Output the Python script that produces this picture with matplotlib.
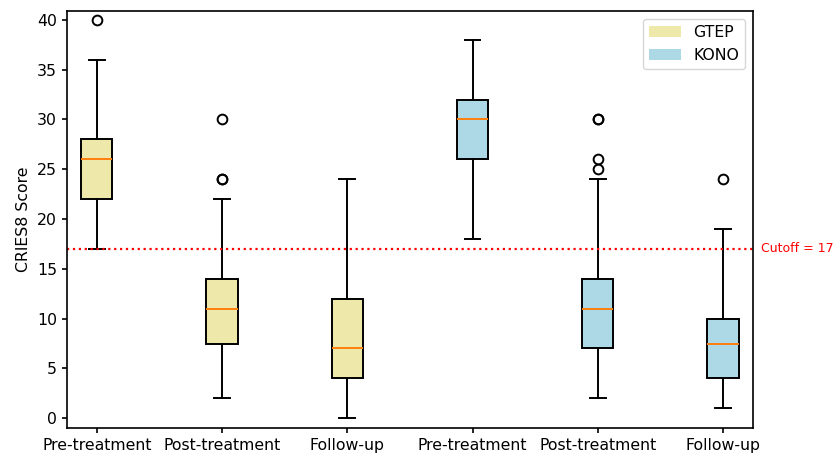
import matplotlib
matplotlib.use('Agg')
import matplotlib.pyplot as plt
from matplotlib.patches import Patch

# Box statistics (CRIES8 scores)
labels = ['Pre-treatment', 'Post-treatment', 'Follow-up',
          'Pre-treatment', 'Post-treatment', 'Follow-up']
groups = ['GTEP', 'GTEP', 'GTEP', 'KONO', 'KONO', 'KONO']
whislo = [17, 2, 0, 18, 2, 1]
q1 = [22, 7.5, 4, 26, 7, 4]
med = [26, 11, 7, 30, 11, 7.5]
q3 = [28, 14, 12, 32, 14, 10]
whishi = [36, 22, 24, 38, 24, 19]
fliers = [[40], [24, 24, 30], [], [], [25, 26, 30, 30], [24]]

cutoff = 17
colors = {'GTEP': '#EEE8AA', 'KONO': '#ADD8E6'}

plt.rcParams['font.size'] = 11.3
lw = 1.4

stats = []
for i in range(len(labels)):
    stats.append({
        'label': labels[i],
        'whislo': whislo[i], 'q1': q1[i], 'med': med[i],
        'q3': q3[i], 'whishi': whishi[i], 'fliers': fliers[i],
    })

fig = plt.figure(figsize=(8.34, 4.55), dpi=100)
ax = fig.add_axes([0.080, 0.059, 0.823, 0.917])

bp = ax.bxp(stats, positions=range(1, len(labels) + 1), widths=0.25,
            patch_artist=True, showfliers=True,
            boxprops=dict(linewidth=lw), whiskerprops=dict(linewidth=lw),
            capprops=dict(linewidth=lw), medianprops=dict(linewidth=lw, color='C1'),
            flierprops=dict(markersize=7, markeredgewidth=lw))
for patch, g in zip(bp['boxes'], groups):
    patch.set_facecolor(colors[g])
    patch.set_edgecolor('black')

ax.axhline(cutoff, color='red', linestyle=':', linewidth=1.6)
ax.text(6.3, cutoff, f'Cutoff = {cutoff}', color='red', fontsize=9,
        va='center', ha='left', clip_on=False)

ax.set_xlim(0.76, 6.24)
ax.set_ylim(-1, 40.9)
ax.set_ylabel('CRIES8 Score')
for s in ax.spines.values():
    s.set_linewidth(1.2)
ax.tick_params(width=1.2)

handles = [Patch(facecolor=colors['GTEP'], label='GTEP'),
           Patch(facecolor=colors['KONO'], label='KONO')]
ax.legend(handles=handles, loc='upper right')

plt.savefig('out.png', dpi=100)
plt.close()
